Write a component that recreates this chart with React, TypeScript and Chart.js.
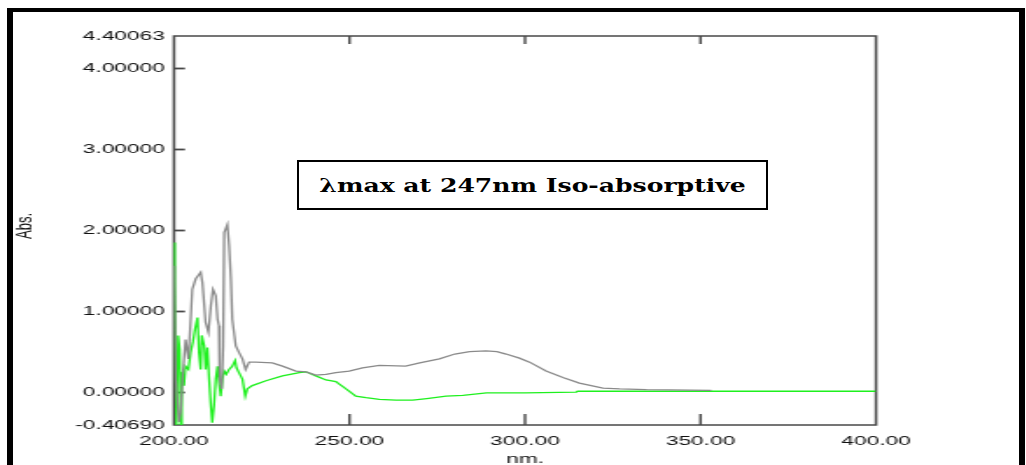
import React, { useEffect, useRef } from "react";
import { Chart, registerables } from "chart.js";

Chart.register(...registerables);

// ---------------- data ----------------
const xTickValues = [200, 250, 300, 350, 400];
const yTickValues = [-0.4069, 0, 1, 2, 3, 4, 4.40063];
const innerYTicks = [0, 1, 2, 3, 4];
const innerXTicks = [250, 300, 350];

const grayNm = [
  200.0, 200.1, 200.5, 201.4, 201.9, 202.4, 203.3, 204.1, 204.75, 205.2,
  206.2, 207.6, 208.1, 209.0, 209.8, 210.5, 211.1, 211.9, 212.4, 212.8,
  213.0, 213.6, 214.0, 214.3, 215.2, 215.7, 216.2, 216.6, 217.6, 218.5,
  219.5, 220.4, 221.4, 223.3, 228.0, 230.9, 234.7, 237.6, 240.4, 243.3,
  246.1, 249.9, 253.7, 258.5, 266.0, 270.0, 275.6, 280.0, 284.2, 288.9,
  292.0, 294.6, 298.4, 301.3, 306.0, 310.8, 315.5, 322.2, 327.0, 334.6,
  353.1,
];
const grayAbs = [
  1.56, 1.35, 0.16, -0.37, -0.25, 0.16, 0.65, 0.41, 0.9, 1.27,
  1.4, 1.48, 1.35, 0.86, 0.74, 1.07, 1.27, 1.19, 0.9, 0.82,
  0.16, 0.04, 0.57, 1.97, 2.07, 1.81, 1.4, 0.9, 0.57, 0.49,
  0.41, 0.28, 0.37, 0.37, 0.36, 0.32, 0.26, 0.25, 0.21, 0.22,
  0.24, 0.26, 0.3, 0.33, 0.32, 0.36, 0.41, 0.47, 0.5, 0.51,
  0.5, 0.47, 0.42, 0.37, 0.26, 0.18, 0.11, 0.05, 0.04, 0.03,
  0.02,
];

const greenNm = [
  200.0, 200.2, 200.5, 200.7, 201.2, 201.6, 201.9, 202.2, 202.4, 202.85,
  203.3, 204.1, 204.75, 205.4, 206.0, 206.7, 207.1, 207.6, 207.9, 208.6,
  209.0, 209.5, 210.0, 210.5, 210.9, 211.4, 211.9, 212.4, 212.8, 213.3,
  213.8, 214.3, 214.9, 215.7, 216.6, 217.4, 217.8, 218.5, 219.5, 220.3,
  220.9, 222.3, 226.2, 230.9, 235.7, 237.6, 240.4, 243.3, 246.1, 249.0,
  251.8, 254.7, 258.5, 263.2, 268.0, 272.0, 277.5, 282.3, 289.0, 300.0,
  314.6, 315.0, 400.0,
];
const greenAbs = [
  1.85, 1.3, 0.16, -0.41, 0.7, 0.53, -0.41, 0.2, 0.25, 0.08,
  0.32, 0.28, 0.49, 0.62, 0.78, 0.92, 0.49, 0.28, 0.7, 0.57,
  0.28, 0.55, 0.16, -0.17, -0.38, -0.17, 0.16, 0.32, 0.12, -0.05,
  0.16, 0.26, 0.22, 0.28, 0.32, 0.39, 0.3, 0.24, 0.16, -0.05,
  0.04, 0.08, 0.14, 0.2, 0.24, 0.25, 0.2, 0.15, 0.13, 0.04,
  -0.05, -0.07, -0.09, -0.1, -0.1, -0.08, -0.05, -0.04, -0.01, -0.01,
  0.0, 0.01, 0.01,
];

const annotationText = "λmax at 247nm Iso-absorptive";
const yTitle = "Abs.";
const xTitle = "nm.";

// ---------------- layout ----------------
const SX = 1.75; // horizontal stretch of the whole plot image
const LOGICAL_W = 586;
const H = 465;
const PLOT_LEFT = 174 / SX;
const PLOT_RIGHT = 876 / SX;
const PLOT_TOP = 36;
const PLOT_BOTTOM = 425;
const TICK_FONT = { family: '"Liberation Sans", Arial, sans-serif', size: 13 };
const TEXT_COLOR = "#111";

const framePlugin = {
  id: "spectrumFrame",
  beforeDatasetsDraw(chart: any) {
    const { ctx, chartArea: a, scales } = chart;
    const xs = scales.x;
    const ys = scales.y;
    ctx.save();
    ctx.strokeStyle = "#484848";
    ctx.lineWidth = 1.5;
    ctx.strokeRect(a.left, a.top, a.right - a.left, a.bottom - a.top);
    ctx.lineWidth = 1.8;
    innerYTicks.forEach((v) => {
      const py = Math.round(ys.getPixelForValue(v)) + 0.5;
      ctx.beginPath();
      ctx.moveTo(a.left, py);
      ctx.lineTo(a.left + 11 / SX, py);
      ctx.stroke();
    });
    ctx.lineWidth = 1.4;
    innerXTicks.forEach((v) => {
      const px = xs.getPixelForValue(v);
      ctx.beginPath();
      ctx.moveTo(px, a.bottom);
      ctx.lineTo(px, a.bottom - 11);
      ctx.moveTo(px, a.top);
      ctx.lineTo(px, a.top + 8);
      ctx.stroke();
    });
    ctx.restore();
  },
  afterDraw(chart: any) {
    const { ctx, chartArea: a } = chart;
    ctx.save();
    ctx.fillStyle = TEXT_COLOR;
    ctx.font = `13px ${TICK_FONT.family}`;
    ctx.textAlign = "center";
    ctx.textBaseline = "middle";
    ctx.save();
    ctx.translate(26 / SX, 226);
    ctx.rotate(-Math.PI / 2);
    ctx.fillText(yTitle, 0, 0);
    ctx.restore();
    ctx.fillText(xTitle, (a.left + a.right) / 2, 459);
    ctx.restore();
  },
};

export default function App() {
  const canvasRef = useRef<HTMLCanvasElement | null>(null);

  useEffect(() => {
    const canvas = canvasRef.current;
    if (!canvas) return;
    const chart = new Chart(canvas, {
      type: "line",
      data: {
        datasets: [
          {
            label: "gray",
            data: grayNm.map((x, i) => ({ x, y: grayAbs[i] })),
            borderColor: "#8a8a8a",
            borderWidth: 1.3,
            pointRadius: 0,
            tension: 0,
            fill: false,
          },
          {
            label: "green",
            data: greenNm.map((x, i) => ({ x, y: greenAbs[i] })),
            borderColor: "#1ef01e",
            borderWidth: 1.3,
            pointRadius: 0,
            tension: 0,
            fill: false,
          },
        ],
      },
      options: {
        animation: false,
        responsive: false,
        devicePixelRatio: 1,
        layout: {
          padding: { left: 0, top: PLOT_TOP, right: LOGICAL_W - PLOT_RIGHT, bottom: 0 },
        },
        plugins: { legend: { display: false }, tooltip: { enabled: false } },
        scales: {
          x: {
            type: "linear",
            min: 200,
            max: 400,
            afterBuildTicks: (s: any) => {
              s.ticks = xTickValues.map((v) => ({ value: v }));
            },
            afterFit: (s: any) => {
              s.height = H - PLOT_BOTTOM;
            },
            grid: { display: false, drawTicks: false },
            border: { display: false },
            ticks: {
              autoSkip: false,
              maxRotation: 0,
              padding: 9,
              color: TEXT_COLOR,
              font: TICK_FONT,
              callback: (v: any) => Number(v).toFixed(2),
            },
          },
          y: {
            type: "linear",
            min: -0.4069,
            max: 4.40063,
            afterBuildTicks: (s: any) => {
              s.ticks = yTickValues.map((v) => ({ value: v }));
            },
            afterFit: (s: any) => {
              s.width = PLOT_LEFT;
            },
            grid: { display: false, drawTicks: false },
            border: { display: false },
            ticks: {
              autoSkip: false,
              padding: 9 / SX,
              color: TEXT_COLOR,
              font: TICK_FONT,
              callback: (v: any) => Number(v).toFixed(5),
            },
          },
        },
      },
      plugins: [framePlugin],
    });
    return () => chart.destroy();
  }, []);

  return (
    <div
      style={{
        position: "absolute",
        left: 0,
        top: 0,
        width: 1026,
        height: 465,
        overflow: "hidden",
        background: "#fff",
      }}
    >
      <div
        style={{
          position: "absolute",
          left: 7,
          top: 8,
          width: 1018,
          height: 500,
          boxSizing: "border-box",
          borderLeft: "6px solid #000",
          borderTop: "4px solid #000",
          borderRight: "6px solid #000",
        }}
      />
      <canvas
        ref={canvasRef}
        width={LOGICAL_W}
        height={H}
        style={{
          position: "absolute",
          left: 0,
          top: 0,
          transform: `scaleX(${SX})`,
          transformOrigin: "0 0",
        }}
      />
      <div
        style={{
          position: "absolute",
          left: 297,
          top: 160,
          width: 471,
          height: 50,
          boxSizing: "border-box",
          border: "2px solid #000",
          background: "#fff",
          display: "flex",
          alignItems: "center",
          justifyContent: "center",
        }}
      >
        <span
          style={{
            fontFamily: '"DejaVu Serif", serif',
            fontWeight: "bold",
            fontSize: 19,
            color: "#000",
            whiteSpace: "nowrap",
            transform: "scaleX(1.32)",
            display: "inline-block",
          }}
        >
          {annotationText}
        </span>
      </div>
    </div>
  );
}
